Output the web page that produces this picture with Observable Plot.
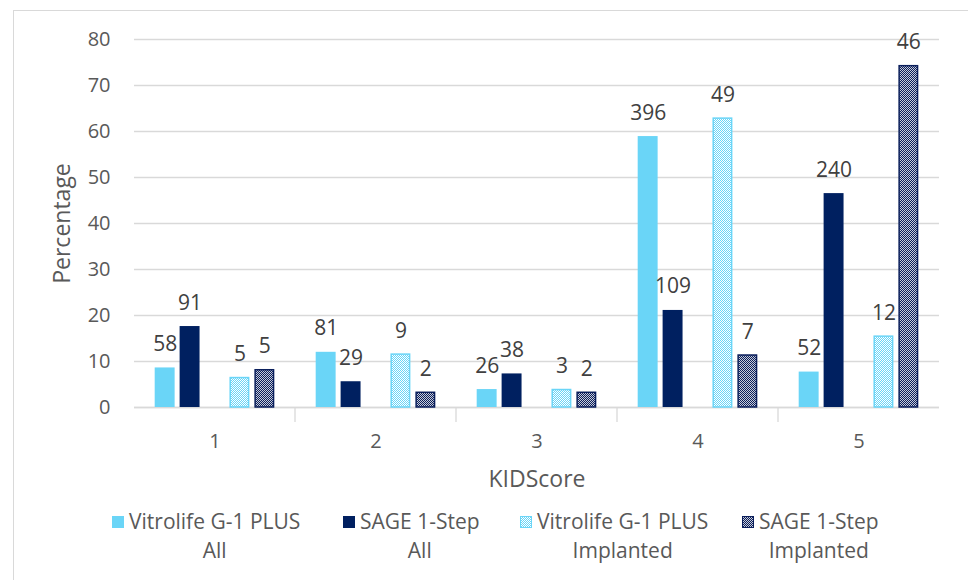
<!DOCTYPE html>
<html><head><meta charset="utf-8">
<script src="https://cdn.jsdelivr.net/npm/d3@7"></script>
<script src="https://cdn.jsdelivr.net/npm/@observablehq/plot@0.6"></script>
<style>
body{margin:0;background:#fff;font-family:"Open Sans",sans-serif;}
#wrap{position:relative;width:968px;height:580px;overflow:hidden;background:#fff;}
#frame{position:absolute;left:13px;top:10px;width:975px;height:600px;border:1px solid #d9d9d9;box-sizing:border-box;}
#chart{position:absolute;left:0;top:0;}
#legend{position:absolute;top:507px;left:0;width:968px;height:70px;font-size:21px;color:#595959;}
.item{position:absolute;top:0;display:flex;align-items:flex-start;}
.sw{width:12px;height:12px;margin-top:9px;margin-right:5px;box-sizing:border-box;}
.txt{text-align:center;line-height:29px;white-space:nowrap;}
</style></head>
<body>
<svg width="0" height="0" style="position:absolute">
<defs>
<pattern id="pVI" width="2" height="2" patternUnits="userSpaceOnUse">
<rect width="2" height="2" fill="#ffffff"/>
<rect x="0" y="0" width="1" height="1" fill="#6ad5f7"/>
<rect x="1" y="1" width="1" height="1" fill="#6ad5f7"/>
</pattern>
<pattern id="pSI" width="2" height="2" patternUnits="userSpaceOnUse">
<rect width="2" height="2" fill="#c8ccd8"/>
<rect x="0" y="0" width="1" height="1" fill="#0b1f5c"/>
<rect x="1" y="1" width="1" height="1" fill="#0b1f5c"/>
</pattern>
</defs>
</svg>
<div id="wrap">
<div id="frame"></div>
<div id="chart"></div>
<div id="legend"></div>
</div>
<script>
const scores = ["1", "2", "3", "4", "5"];
const seriesKeys = ["VA", "SA", "VI", "SI"];
const seriesLine1 = ["Vitrolife G-1 PLUS", "SAGE 1-Step", "Vitrolife G-1 PLUS", "SAGE 1-Step"];
const seriesLine2 = ["All", "All", "Implanted", "Implanted"];
const yTicks = [0, 10, 20, 30, 40, 50, 60, 70, 80];

// percentages
const vitrolifeAllPct = [8.6, 12.0, 3.9, 58.9, 7.7];
const sageAllPct = [17.6, 5.6, 7.3, 21.1, 46.5];
const vitrolifeImpPct = [6.4, 11.5, 3.8, 62.8, 15.4];
const sageImpPct = [8.1, 3.2, 3.2, 11.3, 74.2];

// counts shown as labels
const vitrolifeAllN = [58, 81, 26, 396, 52];
const sageAllN = [91, 29, 38, 109, 240];
const vitrolifeImpN = [5, 9, 3, 49, 12];
const sageImpN = [5, 2, 2, 7, 46];

const pctBySeries = {VA: vitrolifeAllPct, SA: sageAllPct, VI: vitrolifeImpPct, SI: sageImpPct};
const nBySeries = {VA: vitrolifeAllN, SA: sageAllN, VI: vitrolifeImpN, SI: sageImpN};
const fillBySeries = {VA: "#6ad5f7", SA: "#002060", VI: "url(#pVI)", SI: "url(#pSI)"};
const strokeBySeries = {VA: "none", SA: "none", VI: "#6ad5f7", SI: "#0b1f5c"};
const swatchCss = {
  VA: "background:#6ad5f7;",
  SA: "background:#002060;",
  VI: "background:repeating-conic-gradient(#6ad5f7 0 25%, #ffffff 0 50%) 0 0/2px 2px;border:1px solid #6ad5f7;",
  SI: "background:repeating-conic-gradient(#0b1f5c 0 25%, #c8ccd8 0 50%) 0 0/2px 2px;border:1px solid #0b1f5c;"
};
const legendLeft = [112, 343, 520, 742];

const data = scores.flatMap((s, i) => seriesKeys.map(k => ({score: s, key: k, value: pctBySeries[k][i], n: nBySeries[k][i]})));

const barMarks = seriesKeys.map(k => Plot.barY(data.filter(d => d.key === k), {
  fx: "score", x: "key", y: "value",
  fill: fillBySeries[k], stroke: strokeBySeries[k], strokeWidth: 1.5,
  insetLeft: k === "VI" || k === "SI" ? 0.75 : 0, insetRight: k === "VI" || k === "SI" ? 0.75 : 0
}));

const plot = Plot.plot({
  width: 968, height: 495,
  marginLeft: 133, marginRight: 28, marginTop: 39, marginBottom: 88,
  style: {fontFamily: "'Open Sans', sans-serif", fontSize: "20px", color: "#595959", background: "transparent"},
  fx: {domain: scores, paddingInner: 0, paddingOuter: 0, label: "KIDScore"},
  x: {domain: ["VA", "SA", "gap", "VI", "SI"], paddingInner: 0.2, paddingOuter: 0.83, axis: null, round: false},
  y: {domain: [0, 80]},
  marks: [
    Plot.gridY(yTicks, {stroke: "#d9d9d9", strokeOpacity: 1, strokeWidth: 1.3}),
    Plot.axisY(yTicks, {tickSize: 0, tickPadding: 24, label: "Percentage", labelAnchor: "center", labelArrow: "none", labelOffset: 81, fontSize: 20, fill: "#595959"}),
    Plot.axisFx({anchor: "bottom", tickSize: 0, tickPadding: 26, label: "KIDScore", labelAnchor: "center", labelArrow: "none", labelOffset: 79, fontSize: 20, fill: "#595959"}),
    Plot.ruleY([0], {stroke: "#d9d9d9", strokeWidth: 1.5}),
    ...barMarks,
    Plot.text(data, {fx: "score", x: "key", y: "value", text: "n", dy: -17, lineAnchor: "bottom", fill: "#404040", fontSize: 21})
  ]
});

// larger axis titles
d3.select(plot).selectAll("g[aria-label='y-axis label'] text, g[aria-label='fx-axis label'] text").attr("font-size", 23);

// category boundary ticks below the axis, positioned from Plot's own scales
const fxS = plot.scale("fx");
const yS = plot.scale("y");
const y0 = yS.apply(0);
d3.select(plot).append("g")
  .selectAll("line").data(scores.slice(1)).join("line")
  .attr("x1", s => fxS.apply(s)).attr("x2", s => fxS.apply(s))
  .attr("y1", y0).attr("y2", y0 + 15)
  .attr("stroke", "#d9d9d9").attr("stroke-width", 1.3);

document.getElementById("chart").appendChild(plot);

const legend = document.getElementById("legend");
seriesKeys.forEach((k, i) => {
  const it = document.createElement("div");
  it.className = "item";
  it.style.left = legendLeft[i] + "px";
  it.innerHTML = `<div class="sw" style="${swatchCss[k]}"></div><div class="txt">${seriesLine1[i]}<br>${seriesLine2[i]}</div>`;
  legend.appendChild(it);
});
</script>
</body></html>
